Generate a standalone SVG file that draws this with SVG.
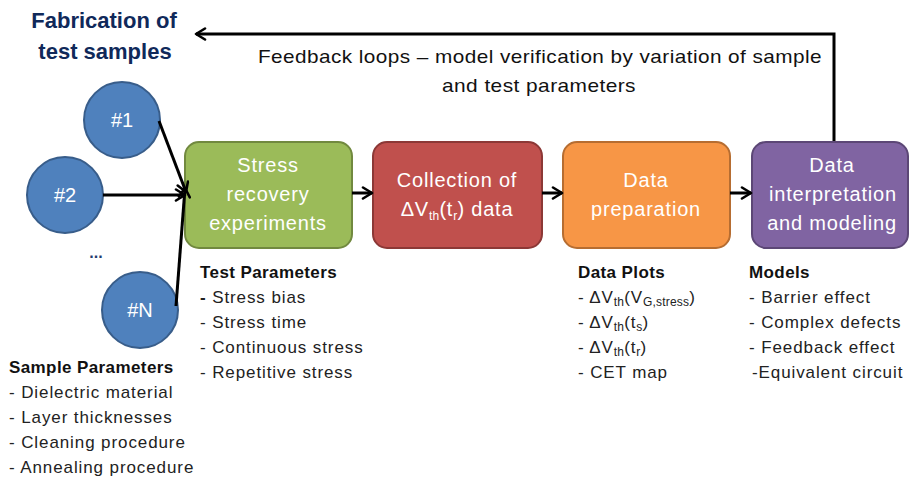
<svg xmlns="http://www.w3.org/2000/svg" width="910" height="482" viewBox="0 0 910 482">
  <style>
    .title { font-family: "Liberation Sans", Arial, sans-serif; font-weight: bold; font-size: 22px; fill: #10295a; text-anchor: middle; }
    .note { font-family: "Liberation Sans", Arial, sans-serif; font-size: 19px; fill: #111; letter-spacing: 0.4px; }
    .box-label { font-family: "Liberation Sans", Arial, sans-serif; font-size: 20px; fill: #ffffff; text-anchor: middle; letter-spacing: 0.8px; }
    .circ-label { font-family: "Liberation Sans", Arial, sans-serif; font-size: 20px; fill: #ffffff; text-anchor: middle; }
    .head { font-family: "Liberation Sans", Arial, sans-serif; font-weight: bold; font-size: 17px; fill: #111; letter-spacing: 0.4px; }
    .item { font-family: "Liberation Sans", Arial, sans-serif; font-size: 17px; fill: #222; letter-spacing: 0.9px; }
    .sub { font-size: 12px; letter-spacing: 0.2px; }
    .sample { fill: #4f81bd; stroke: #385d8a; stroke-width: 2; }
    .conn { fill: none; stroke: #000; stroke-width: 3; marker-end: url(#chev); }
  </style>
  <defs>
    <marker id="chev" viewBox="0 0 14 14" refX="12" refY="7" markerWidth="14" markerHeight="14" markerUnits="userSpaceOnUse" orient="auto">
      <path d="M3,1.5 L12,7 L3,12.5" fill="none" stroke="#000" stroke-width="2.6" stroke-linecap="round" stroke-linejoin="round"/>
    </marker>
  </defs>

  <rect width="910" height="482" fill="#ffffff"/>

  <!-- heading -->
  <g id="title">
    <text class="title" x="104" y="28">Fabrication of</text>
    <text class="title" x="105" y="59">test samples</text>
  </g>

  <!-- feedback caption -->
  <g id="feedback-note">
    <text class="note" x="540" y="63" text-anchor="middle" textLength="564" lengthAdjust="spacingAndGlyphs">Feedback loops – model verification by variation of sample</text>
    <text class="note" x="539" y="92" text-anchor="middle" textLength="194" lengthAdjust="spacingAndGlyphs">and test parameters</text>
  </g>

  <!-- sample nodes -->
  <g id="sample-1">
    <circle class="sample" cx="122" cy="120" r="38"/>
    <text class="circ-label" x="122" y="127">#1</text>
  </g>
  <g id="sample-2">
    <circle class="sample" cx="65" cy="195" r="38"/>
    <text class="circ-label" x="65" y="202">#2</text>
  </g>
  <g id="sample-dots">
    <text x="96" y="258" font-family="Liberation Sans, Arial, sans-serif" font-size="16" font-weight="bold" fill="#1f3b70" text-anchor="middle">...</text>
  </g>
  <g id="sample-n">
    <circle class="sample" cx="140" cy="310" r="38"/>
    <text class="circ-label" x="140" y="317">#N</text>
  </g>

  <!-- process steps -->
  <g id="step-stress">
    <rect x="185" y="142" width="167" height="106" rx="14" fill="#9bbb59" stroke="#71893f" stroke-width="2"/>
    <text class="box-label" x="268" y="172">Stress</text>
    <text class="box-label" x="268" y="201">recovery</text>
    <text class="box-label" x="268" y="230">experiments</text>
  </g>
  <g id="step-collection">
    <rect x="373" y="142" width="169" height="106" rx="14" fill="#c0504d" stroke="#8c3836" stroke-width="2"/>
    <text class="box-label" x="457" y="187">Collection of</text>
    <text class="box-label" x="457" y="216">ΔV<tspan class="sub" dy="4">th</tspan><tspan dy="-4">(t</tspan><tspan class="sub" dy="4">r</tspan><tspan dy="-4">) data</tspan></text>
  </g>
  <g id="step-preparation">
    <rect x="563" y="142" width="167" height="106" rx="14" fill="#f79646" stroke="#b66d31" stroke-width="2"/>
    <text class="box-label" x="646" y="187">Data</text>
    <text class="box-label" x="646" y="216">preparation</text>
  </g>
  <g id="step-modeling">
    <rect x="752" y="142" width="156" height="106" rx="14" fill="#8064a2" stroke="#5c4776" stroke-width="2"/>
    <text class="box-label" x="832" y="172">Data</text>
    <text class="box-label" x="833" y="201">interpretation</text>
    <text class="box-label" x="832" y="230">and modeling</text>
  </g>

  <!-- connectors -->
  <g id="connectors">
    <line class="conn" x1="159" y1="121" x2="186" y2="192"/>
    <line class="conn" x1="103" y1="195" x2="185" y2="195"/>
    <line class="conn" x1="176" y1="306" x2="185" y2="188"/>
    <line class="conn" x1="352" y1="193" x2="372" y2="193"/>
    <line class="conn" x1="542" y1="193" x2="562" y2="193"/>
    <line class="conn" x1="730" y1="193" x2="751" y2="193"/>
    <path class="conn" d="M834,141 V34 H196"/>
  </g>

  <!-- parameter lists -->
  <g id="test-parameters">
    <text class="head" x="200" y="278">Test Parameters</text>
    <text class="item" x="200" y="303"><tspan font-weight="bold">-</tspan> Stress bias</text>
    <text class="item" x="200" y="328">- Stress time</text>
    <text class="item" x="200" y="353">- Continuous stress</text>
    <text class="item" x="200" y="378">- Repetitive stress</text>
  </g>
  <g id="sample-parameters">
    <text class="head" x="9" y="373">Sample Parameters</text>
    <text class="item" x="9" y="398">- Dielectric material</text>
    <text class="item" x="9" y="423">- Layer thicknesses</text>
    <text class="item" x="9" y="448">- Cleaning procedure</text>
    <text class="item" x="9" y="473">- Annealing procedure</text>
  </g>
  <g id="data-plots">
    <text class="head" x="578" y="278">Data Plots</text>
    <text class="item" x="578" y="303">- ΔV<tspan class="sub" dy="3">th</tspan><tspan dy="-3">(V</tspan><tspan class="sub" dy="3">G,stress</tspan><tspan dy="-3">)</tspan></text>
    <text class="item" x="578" y="328">- ΔV<tspan class="sub" dy="3">th</tspan><tspan dy="-3">(t</tspan><tspan class="sub" dy="3">s</tspan><tspan dy="-3">)</tspan></text>
    <text class="item" x="578" y="353">- ΔV<tspan class="sub" dy="3">th</tspan><tspan dy="-3">(t</tspan><tspan class="sub" dy="3">r</tspan><tspan dy="-3">)</tspan></text>
    <text class="item" x="578" y="378">- CET map</text>
  </g>
  <g id="models">
    <text class="head" x="749" y="278">Models</text>
    <text class="item" x="749" y="303">- Barrier effect</text>
    <text class="item" x="749" y="328">- Complex defects</text>
    <text class="item" x="749" y="353">- Feedback effect</text>
    <text class="item" x="752" y="378">-Equivalent circuit</text>
  </g>
</svg>
